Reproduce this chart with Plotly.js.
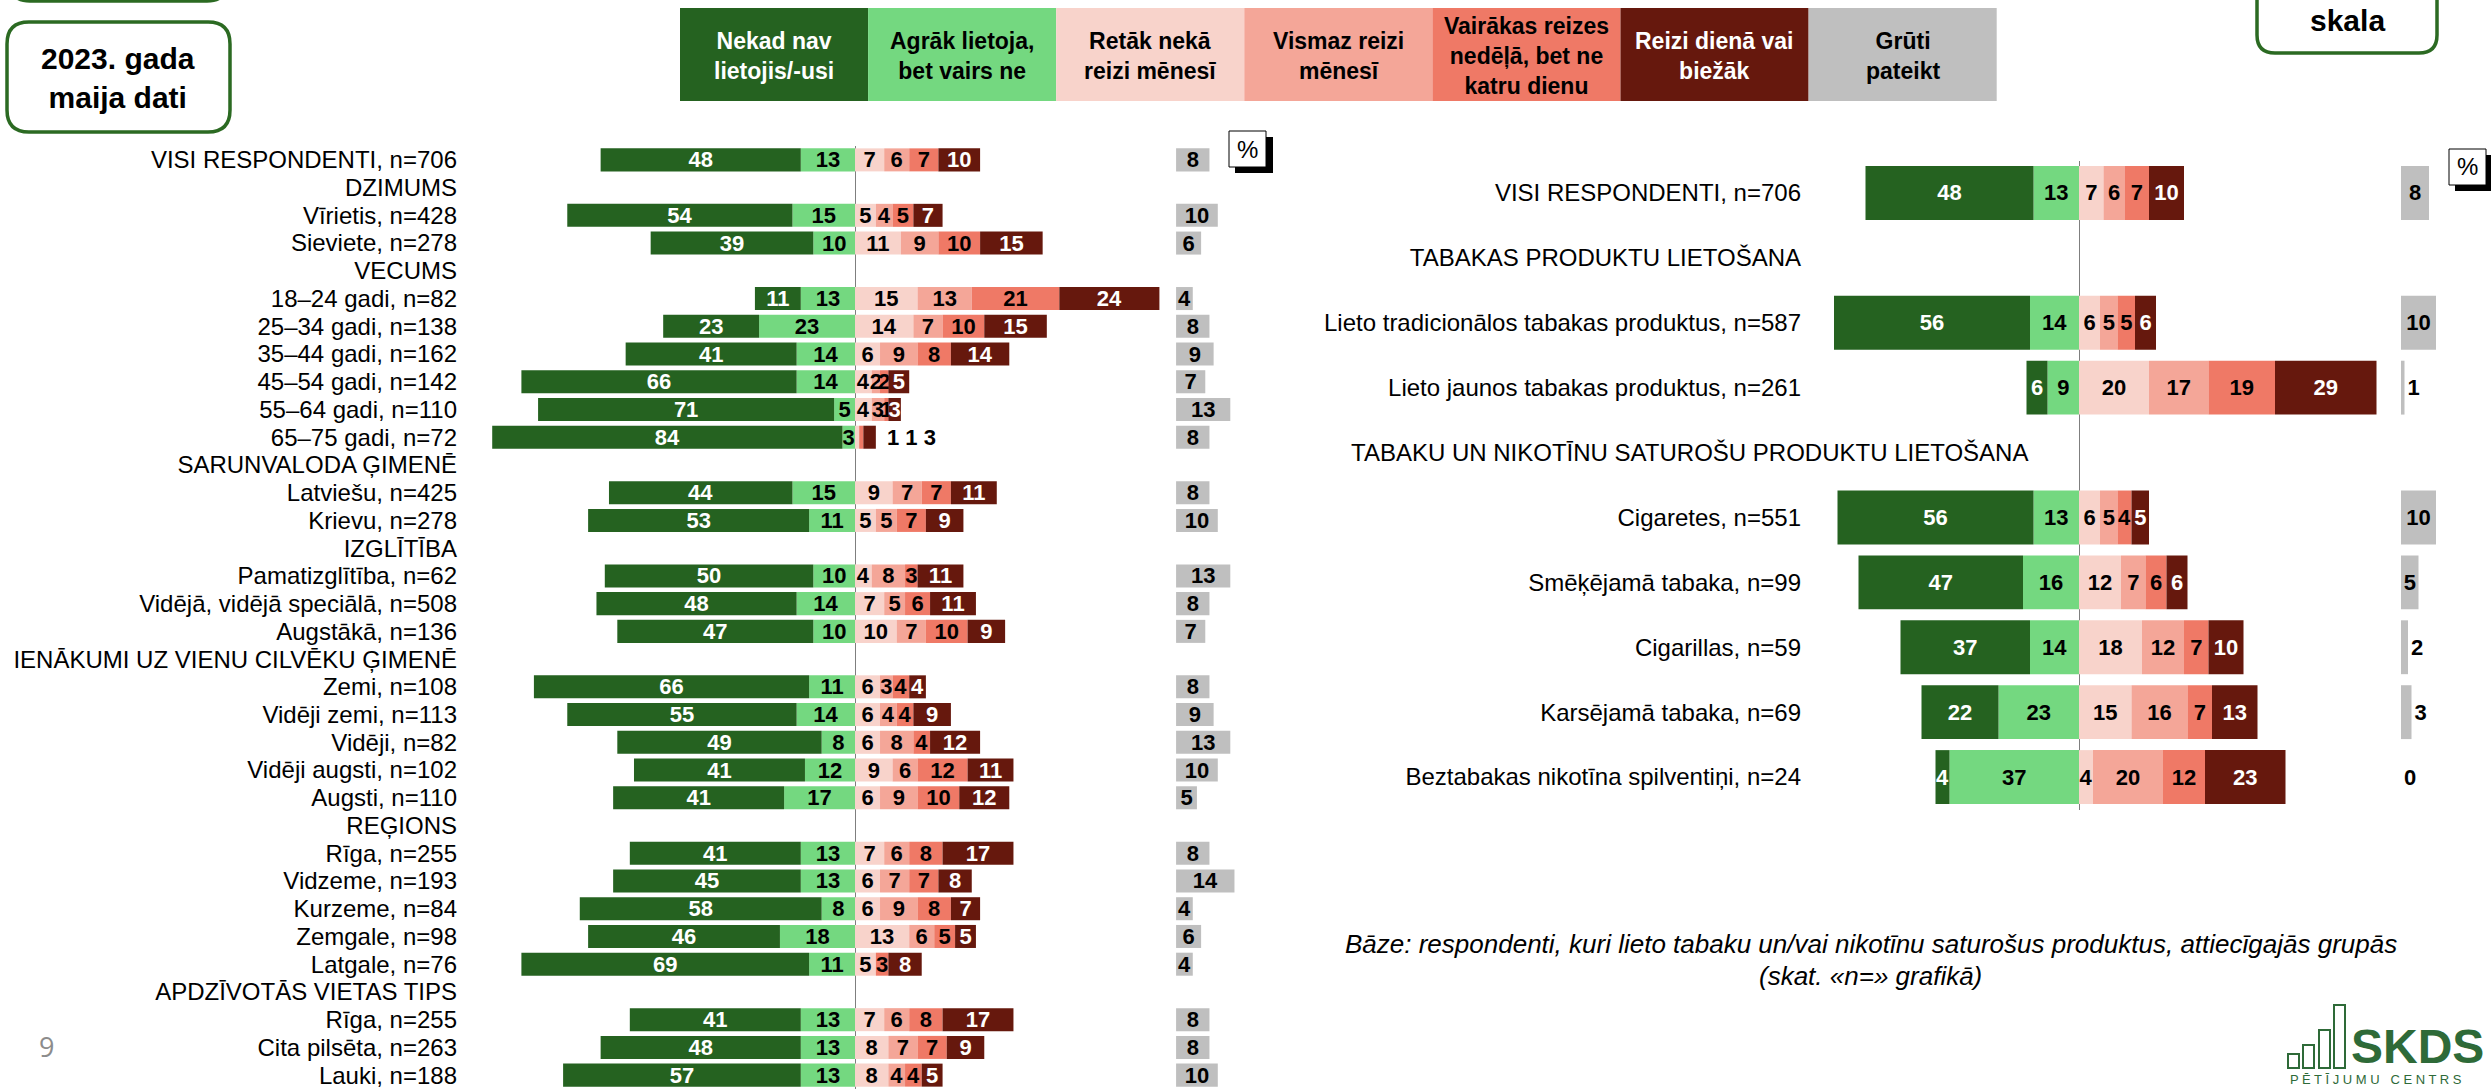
<!DOCTYPE html>
<html>
<head>
<meta charset="utf-8">
<script src="https://cdn.plot.ly/plotly-3.0.1.min.js"></script>
<style>
  body { margin: 0; background: #ffffff; }
  #chart { width: 2491px; height: 1089px; }
</style>
</head>
<body>
<div id="chart"></div>
<script>
// Answer categories (legend boxes)
const answerNames = [
    'Nekad nav<br>lietojis/-usi',
    'Agrāk lietoja,<br>bet vairs ne',
    'Retāk nekā<br>reizi mēnesī',
    'Vismaz reizi<br>mēnesī',
    'Vairākas reizes<br>nedēļā, bet ne<br>katru dienu',
    'Reizi dienā vai<br>biežāk',
    'Grūti<br>pateikt'
];

// Left chart: socio-demographic groups (null = section header row)
const leftLabels = [
    'VISI RESPONDENTI, n=706', 'DZIMUMS', 'Vīrietis, n=428', 'Sieviete, n=278',
    'VECUMS', '18–24 gadi, n=82', '25–34 gadi, n=138', '35–44 gadi, n=162',
    '45–54 gadi, n=142', '55–64 gadi, n=110', '65–75 gadi, n=72',
    'SARUNVALODA ĢIMENĒ', 'Latviešu, n=425', 'Krievu, n=278',
    'IZGLĪTĪBA', 'Pamatizglītība, n=62', 'Vidējā, vidējā speciālā, n=508', 'Augstākā, n=136',
    'IENĀKUMI UZ VIENU CILVĒKU ĢIMENĒ', 'Zemi, n=108', 'Vidēji zemi, n=113', 'Vidēji, n=82',
    'Vidēji augsti, n=102', 'Augsti, n=110',
    'REĢIONS', 'Rīga, n=255', 'Vidzeme, n=193', 'Kurzeme, n=84', 'Zemgale, n=98', 'Latgale, n=76',
    'APDZĪVOTĀS VIETAS TIPS', 'Rīga, n=255', 'Cita pilsēta, n=263', 'Lauki, n=188'
];
const leftNekad    = [48, null, 54, 39, null, 11, 23, 41, 66, 71, 84, null, 44, 53, null, 50, 48, 47, null, 66, 55, 49, 41, 41, null, 41, 45, 58, 46, 69, null, 41, 48, 57];
const leftAgrak    = [13, null, 15, 10, null, 13, 23, 14, 14, 5, 3, null, 15, 11, null, 10, 14, 10, null, 11, 14, 8, 12, 17, null, 13, 13, 8, 18, 11, null, 13, 13, 13];
const leftRetak    = [7, null, 5, 11, null, 15, 14, 6, 4, 4, 1, null, 9, 5, null, 4, 7, 10, null, 6, 6, 6, 9, 6, null, 7, 6, 6, 13, 5, null, 7, 8, 8];
const leftVismaz   = [6, null, 4, 9, null, 13, 7, 9, 2, 3, 0, null, 7, 5, null, 8, 5, 7, null, 3, 4, 8, 6, 9, null, 6, 7, 9, 6, 0, null, 6, 7, 4];
const leftVairakas = [7, null, 5, 10, null, 21, 10, 8, 2, 1, 1, null, 7, 7, null, 3, 6, 10, null, 4, 4, 4, 12, 10, null, 8, 7, 8, 5, 3, null, 8, 7, 4];
const leftReizi    = [10, null, 7, 15, null, 24, 15, 14, 5, 3, 3, null, 11, 9, null, 11, 11, 9, null, 4, 9, 12, 11, 12, null, 17, 8, 7, 5, 8, null, 17, 9, 5];
const leftGruti    = [8, null, 10, 6, null, 4, 8, 9, 7, 13, 8, null, 8, 10, null, 13, 8, 7, null, 8, 9, 13, 10, 5, null, 8, 14, 4, 6, 4, null, 8, 8, 10];
// row whose small shares are labelled beside the bar
const leftOutsideRow = 10;

// Right chart: product users
const rightLabels = [
    'VISI RESPONDENTI, n=706', 'TABAKAS PRODUKTU LIETOŠANA',
    'Lieto tradicionālos tabakas produktus, n=587', 'Lieto jaunos tabakas produktus, n=261',
    'TABAKU UN NIKOTĪNU SATUROŠU PRODUKTU LIETOŠANA',
    'Cigaretes, n=551', 'Smēķējamā tabaka, n=99', 'Cigarillas, n=59',
    'Karsējamā tabaka, n=69', 'Beztabakas nikotīna spilventiņi, n=24'
];
const rightNekad    = [48, null, 56, 6, null, 56, 47, 37, 22, 4];
const rightAgrak    = [13, null, 14, 9, null, 13, 16, 14, 23, 37];
const rightRetak    = [7, null, 6, 20, null, 6, 12, 18, 15, 4];
const rightVismaz   = [6, null, 5, 17, null, 5, 7, 12, 16, 20];
const rightVairakas = [7, null, 5, 19, null, 4, 6, 7, 7, 12];
const rightReizi    = [10, null, 6, 29, null, 5, 6, 10, 13, 23];
const rightGruti    = [8, null, 10, 1, null, 10, 5, 2, 3, 0];
const rightWideHeader = 4;

const footnote1 = 'Bāze: respondenti, kuri lieto tabaku un/vai nikotīnu saturošus produktus, attiecīgajās grupās';
const footnote2 = '(skat. «n=» grafikā)';

// Colours
const colors = ['#256220', '#74D880', '#F8D3CB', '#F4A698', '#EF7966', '#66180D', '#BFBFBF'];
const textColors = ['#ffffff', '#000000', '#000000', '#000000', '#000000', '#ffffff', '#000000'];
const FONT = 'Liberation Sans, Arial, sans-serif';
const W = 2491, H = 1089;
const px = x => x / W;
const py = y => 1 - y / H;

function barLabel(v) {
    return (v === null || v === 0) ? '' : String(v);
}

function buildTraces(series, gruti, grayBase, xa, ya, blankRow) {
    const idx = gruti.map((_, i) => i);
    const traces = [];
    // negative side: light green next to zero, dark green outside
    const order = [1, 0, 2, 3, 4, 5];
    order.forEach(k => {
        const vals = series[k];
        const sign = k < 2 ? -1 : 1;
        traces.push({
            type: 'bar',
            orientation: 'h',
            xaxis: xa,
            yaxis: ya,
            y: idx,
            x: vals.map(v => v === null ? null : sign * v),
            width: 0.83,
            marker: { color: colors[k], line: { width: 0 } },
            text: vals.map((v, i) => (k >= 2 && i === blankRow) ? '' : barLabel(v)),
            textposition: 'inside',
            insidetextanchor: 'middle',
            textangle: 0,
            constraintext: 'none',
            cliponaxis: false,
            textfont: { family: FONT, size: 22, color: textColors[k], weight: 'bold' },
            hoverinfo: 'x+y',
            showlegend: false
        });
    });

    traces.push({
        type: 'bar',
        orientation: 'h',
        xaxis: xa,
        yaxis: ya,
        y: idx,
        x: gruti,
        base: gruti.map(() => grayBase),
        width: 0.83,
        marker: { color: colors[6], line: { width: 0 } },
        text: gruti.map(v => v === null ? '' : String(v)),
        textposition: gruti.map(v => v !== null && v >= 4 ? 'inside' : 'outside'),
        insidetextanchor: 'middle',
        textangle: 0,
        constraintext: 'none',
        cliponaxis: false,
        textfont: { family: FONT, size: 22, color: '#000000', weight: 'bold' },
        hoverinfo: 'x+y',
        showlegend: false
    });
    return traces;
}

const leftTraces = buildTraces(
    [leftNekad, leftAgrak, leftRetak, leftVismaz, leftVairakas, leftReizi],
    leftGruti, 77, 'x', 'y', leftOutsideRow);
const rightTraces = buildTraces(
    [rightNekad, rightAgrak, rightRetak, rightVismaz, rightVairakas, rightReizi],
    rightGruti, 92, 'x2', 'y2', -1);

// pixel geometry of the two panels
const leftZero = 855, leftScale = 4.17, leftX0 = 462, leftX1 = 1240;
const rightZero = 2079, rightScale = 3.5, rightX0 = 1802, rightX1 = 2440;

function roundRect(x0, y0, x1, y1, r) {
    const P = (x, y) => px(x) + ',' + py(y);
    return 'M' + P(x0 + r, y0) + ' L' + P(x1 - r, y0) + ' Q' + P(x1, y0) + ' ' + P(x1, y0 + r) +
        ' L' + P(x1, y1 - r) + ' Q' + P(x1, y1) + ' ' + P(x1 - r, y1) +
        ' L' + P(x0 + r, y1) + ' Q' + P(x0, y1) + ' ' + P(x0, y1 - r) +
        ' L' + P(x0, y0 + r) + ' Q' + P(x0, y0) + ' ' + P(x0 + r, y0) + ' Z';
}

function rect(x0, y0, x1, y1, fill, line) {
    return {
        type: 'rect', xref: 'paper', yref: 'paper',
        x0: px(x0), x1: px(x1), y0: py(y1), y1: py(y0),
        fillcolor: fill, line: line || { width: 0 }
    };
}

function note(x, y, text, opts) {
    return Object.assign({
        xref: 'paper', yref: 'paper', x: px(x), y: py(y), text: text,
        showarrow: false, xanchor: 'center', yanchor: 'middle',
        font: { family: FONT, size: 23, color: '#000000' }
    }, opts || {});
}

const shapes = [];
const annotations = [];

// legend boxes
answerNames.forEach((name, i) => {
    const x0 = 680 + i * 188.1;
    shapes.push(rect(x0, 8, x0 + 188.1, 101, colors[i]));
    annotations.push(note(x0 + 94, 56, '<b>' + name + '</b>', {
        font: { family: FONT, size: 23, color: textColors[i] }
    }));
});

// rounded header boxes
const boxLine = { color: '#2B6A22', width: 3.5 };
shapes.push({ type: 'path', xref: 'paper', yref: 'paper', path: roundRect(10, -60, 227, 1, 20), line: boxLine, fillcolor: '#ffffff' });
shapes.push({ type: 'path', xref: 'paper', yref: 'paper', path: roundRect(7, 22, 230, 132, 22), line: boxLine, fillcolor: '#ffffff' });
shapes.push({ type: 'path', xref: 'paper', yref: 'paper', path: roundRect(2257, -60, 2437, 53, 18), line: boxLine, fillcolor: '#ffffff' });
annotations.push(note(118, 78, '<b>2023. gada<br>maija dati</b>', { font: { family: FONT, size: 30, color: '#000000' } }));
annotations.push(note(2347, 20, '<b>skala</b>', { font: { family: FONT, size: 30, color: '#000000' } }));

// "%" boxes with shadow
[[1229, 131], [2449, 149]].forEach(([bx, by]) => {
    shapes.push(rect(bx + 6, by + 6, bx + 44, by + 42, '#000000'));
    shapes.push(rect(bx, by, bx + 37, by + 36, '#ffffff', { color: '#000000', width: 1 }));
    annotations.push(note(bx + 18.5, by + 18, '%', { font: { family: FONT, size: 24, color: '#000000' } }));
});

// small shares of 65–75 shown beside the bar
const outsideVals = [leftRetak, leftVismaz, leftVairakas, leftReizi].map(s => s[leftOutsideRow]);
annotations.push({
    xref: 'x', yref: 'y', x: outsideVals.reduce((a, b) => a + b, 0) + 2.2, y: leftOutsideRow,
    text: '<b>' + outsideVals.filter(v => v > 0).join(' ') + '</b>',
    showarrow: false, xanchor: 'left', yanchor: 'middle',
    font: { family: FONT, size: 22, color: '#000000' }
});

// wide section header in the right panel
annotations.push({
    xref: 'x2', yref: 'y2', x: -14, y: rightWideHeader,
    text: rightLabels[rightWideHeader],
    showarrow: false, xanchor: 'right', yanchor: 'middle',
    font: { family: FONT, size: 24, color: '#000000' }
});

// footnote, page number
annotations.push(note(1871, 944, '<i>' + footnote1 + '</i>', { font: { family: FONT, size: 26, color: '#000000' } }));
annotations.push(note(1871, 976, '<i>' + footnote2 + '</i>', { font: { family: FONT, size: 26, color: '#000000' } }));
annotations.push(note(46, 1046, '9', { font: { family: 'Open Sans, sans-serif', size: 27, color: '#8C8C8C' } }));

// SKDS logo
const logoGreen = '#2E6A38';
[[2288, 1054], [2303, 1045], [2319, 1030], [2334, 1005]].forEach(([lx, ly]) => {
    shapes.push(rect(lx, ly, lx + 11, 1068, 'rgba(0,0,0,0)', { color: logoGreen, width: 2 }));
});
annotations.push(note(2349, 1046, '<b>SKDS</b>', {
    xanchor: 'left',
    font: { family: FONT, size: 48, color: logoGreen }
}));
annotations.push(note(2288, 1079, 'P Ē T Ī J U M U   C E N T R S', {
    xanchor: 'left',
    font: { family: FONT, size: 13, color: logoGreen }
}));

const axisCommon = {
    showgrid: false,
    showline: false,
    ticks: '',
    fixedrange: true,
    automargin: false
};

const layout = {
    width: W,
    height: H,
    margin: { l: 0, r: 0, t: 0, b: 0 },
    paper_bgcolor: '#ffffff',
    plot_bgcolor: 'rgba(0,0,0,0)',
    barmode: 'relative',
    showlegend: false,
    font: { family: FONT, color: '#000000' },
    xaxis: Object.assign({}, axisCommon, {
        domain: [px(leftX0), px(leftX1)],
        range: [(leftX0 - leftZero) / leftScale, (leftX1 - leftZero) / leftScale],
        anchor: 'y',
        showticklabels: false,
        zeroline: true, zerolinecolor: '#7F7F7F', zerolinewidth: 1
    }),
    yaxis: Object.assign({}, axisCommon, {
        domain: [0, py(146)],
        range: [leftLabels.length - 0.5, -0.5],
        anchor: 'x',
        zeroline: false,
        tickmode: 'array',
        tickvals: leftLabels.map((_, i) => i),
        ticktext: leftLabels,
        ticklabelstandoff: 4,
        tickfont: { family: FONT, size: 24, color: '#000000' }
    }),
    xaxis2: Object.assign({}, axisCommon, {
        domain: [px(rightX0), px(rightX1)],
        range: [(rightX0 - rightZero) / rightScale, (rightX1 - rightZero) / rightScale],
        anchor: 'y2',
        showticklabels: false,
        zeroline: true, zerolinecolor: '#7F7F7F', zerolinewidth: 1
    }),
    yaxis2: Object.assign({}, axisCommon, {
        domain: [py(809.5), py(160.5)],
        range: [rightLabels.length - 0.5, -0.5],
        anchor: 'x2',
        zeroline: false,
        tickmode: 'array',
        tickvals: rightLabels.map((_, i) => i),
        ticktext: rightLabels.map((t, i) => i === rightWideHeader ? '' : t),
        tickfont: { family: FONT, size: 24, color: '#000000' }
    }),
    shapes: shapes,
    annotations: annotations
};

const config = {
    responsive: false,
    displayModeBar: false,
    staticPlot: true
};

Plotly.newPlot('chart', leftTraces.concat(rightTraces), layout, config);
</script>
</body>
</html>
